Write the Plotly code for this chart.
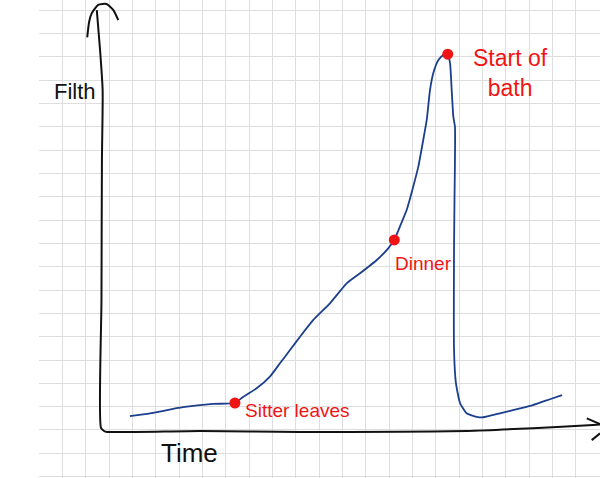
import plotly.graph_objects as go

# ---- data (time, filth) in grid-cell units ----
curve_time = [1.24, 2.10, 3.51, 4.80, 5.74, 6.10, 6.67, 7.24, 7.67, 8.10, 8.53, 9.10, 9.81,
              10.53, 11.10, 11.82, 12.31, 12.57, 12.81, 13.10, 13.38, 13.60, 13.81, 13.96,
              14.10, 14.24, 14.46, 14.67, 14.86, 14.96, 15.03, 15.10, 15.17, 15.15, 15.13,
              15.13, 15.21, 15.39, 15.67, 16.10, 16.38, 17.10, 17.96, 18.51, 19.24, 19.76]
curve_filth = [0.64, 0.76, 1.02, 1.16, 1.20, 1.47, 1.83, 2.33, 2.90, 3.47, 4.04, 4.76, 5.47,
               6.33, 6.76, 7.33, 7.83, 8.19, 8.76, 9.47, 10.47, 11.33, 12.47, 13.33,
               14.61, 15.33, 15.90, 16.11, 16.14, 15.76, 14.61, 13.47, 13.04, 9.90, 7.76,
               3.47, 2.06, 1.19, 0.76, 0.61, 0.59, 0.76, 0.97, 1.11, 1.36, 1.54]

event_labels = ["Sitter leaves", "Dinner", "Start of<br>bath"]
event_time = [5.74, 12.57, 14.86]
event_filth = [1.20, 8.19, 16.15]

axis_time = [-0.18, -0.04, 0.07, 0.04, 0.02, 0.00, 0.13, 0.26, 4.24, 8.53, 12.81, 15.67, 18.51, 21.09, 21.39]
axis_filth = [18.04, 16.33, 14.61, 11.61, 5.61, 0.13, 0.00, -0.04, 0.00, -0.04, -0.03, 0.00, 0.12, 0.26, 0.28]
yarrow_time = [-0.59, -0.51, -0.40, -0.12, 0.24, 0.53, 0.74]
yarrow_filth = [16.87, 17.53, 17.90, 18.26, 18.30, 18.04, 17.61]
xarrow_up_time = [20.82, 21.39]
xarrow_up_filth = [0.54, 0.30]
xarrow_lo_time = [21.03, 21.39]
xarrow_lo_filth = [-0.39, -0.10]

axis_title_x = "Time"
axis_title_y = "Filth"

INK = "#111111"
RED = "#f01515"
BLUE = "#1b3f8c"

fig = go.Figure()
for xs, ys in [(axis_time, axis_filth), (yarrow_time, yarrow_filth),
               (xarrow_up_time, xarrow_up_filth), (xarrow_lo_time, xarrow_lo_filth)]:
    fig.add_trace(go.Scatter(x=xs, y=ys, mode="lines",
                             line=dict(color=INK, width=2, shape="spline", smoothing=0.6),
                             hoverinfo="skip", showlegend=False))

fig.add_trace(go.Scatter(x=curve_time, y=curve_filth, mode="lines",
                         line=dict(color=BLUE, width=1.8, shape="spline", smoothing=0.5),
                         showlegend=False))
fig.add_trace(go.Scatter(x=event_time, y=event_filth, mode="markers",
                         marker=dict(color=RED, size=11), showlegend=False))

font_fam = "Liberation Sans, Arial, sans-serif"
fig.add_annotation(x=8.4, y=0.9, text=event_labels[0], showarrow=False,
                   font=dict(family=font_fam, size=19, color=RED))
fig.add_annotation(x=13.8, y=7.16, text=event_labels[1], showarrow=False,
                   font=dict(family=font_fam, size=19, color=RED))
fig.add_annotation(x=17.57, y=15.36, text=event_labels[2], showarrow=False,
                   font=dict(family=font_fam, size=23, color=RED))
fig.add_annotation(x=3.81, y=-0.94, text=axis_title_x, showarrow=False,
                   font=dict(family=font_fam, size=26, color=INK))
fig.add_annotation(x=-1.11, y=14.53, text=axis_title_y, showarrow=False,
                   font=dict(family=font_fam, size=22, color=INK))

cell = 23.333
fig.update_layout(
    width=600, height=478,
    margin=dict(l=39, r=0, t=0, b=0),
    paper_bgcolor="white", plot_bgcolor="white",
    xaxis=dict(range=[(39 - 101) / cell, (600 - 101) / cell], showticklabels=False,
               showgrid=True, gridcolor="#dedede", gridwidth=1, tick0=(39.3 - 101) / cell, dtick=1,
               zeroline=False, showline=False, ticks="", fixedrange=True),
    yaxis=dict(range=[(431 - 478) / cell, (431 - 0) / cell], showticklabels=False,
               showgrid=True, gridcolor="#dedede", gridwidth=1, tick0=(431 - 10) / cell, dtick=1,
               zeroline=False, showline=False, ticks="", fixedrange=True),
)

fig.write_html("out.html", config={"displayModeBar": False},
               post_script="document.body.style.margin='0';document.body.style.padding='0';"
                           "document.documentElement.style.overflow='hidden';")
